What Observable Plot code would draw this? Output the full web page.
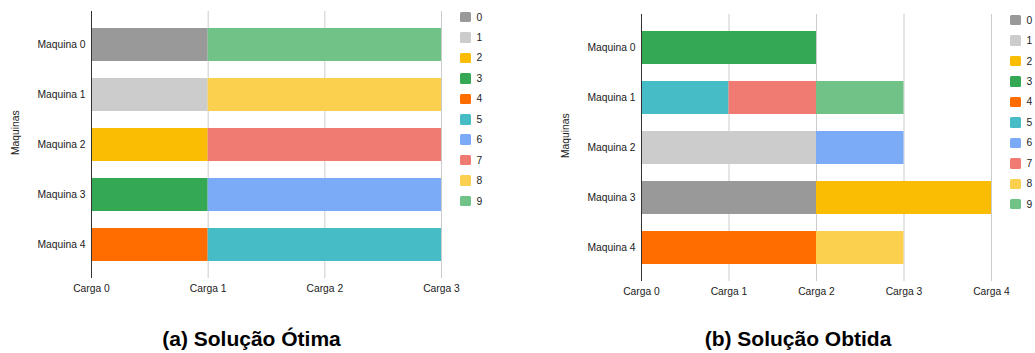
<!DOCTYPE html>
<html>
<head>
<meta charset="utf-8">
<script src="https://cdn.jsdelivr.net/npm/d3@7"></script>
<script src="https://cdn.jsdelivr.net/npm/@observablehq/plot@0.6"></script>
<style>
  body { margin: 0; background: #fff; }
  #root { position: relative; width: 1035px; height: 353px; background: #fff; font-family: "Liberation Sans", Arial, sans-serif; overflow: hidden; }
  .panel { position: absolute; }
  .legend { position: absolute; font-size: 10.3px; color: #222; }
  .legend .row { position: absolute; left: 0; height: 11px; display: flex; align-items: center; white-space: nowrap; }
  .legend .sw { width: 10.5px; height: 10.5px; border-radius: 1.5px; margin-right: 6px; flex: none; }
  .caption { position: absolute; font-weight: bold; font-size: 21px; line-height: 21px; text-align: center; color: #000; }
</style>
</head>
<body>
<div id="root"></div>
<script>
// ---- data ----
const maquinas = ["Maquina 0", "Maquina 1", "Maquina 2", "Maquina 3", "Maquina 4"];
const tarefas = ["0", "1", "2", "3", "4", "5", "6", "7", "8", "9"];
const cores = ["#999999", "#cccccc", "#fbbc04", "#34a853", "#ff6d01", "#46bdc6", "#7baaf7", "#f07b72", "#fcd04f", "#71c287"];

// (a) Solução Ótima
const otimaMaquina = [0, 0, 1, 1, 2, 2, 3, 3, 4, 4];
const otimaTarefa  = [0, 9, 1, 8, 2, 7, 3, 6, 4, 5];
const otimaCarga   = [1, 2, 1, 2, 1, 2, 1, 2, 1, 2];
const otimaTicks   = [0, 1, 2, 3];

// (b) Solução Obtida
const obtidaMaquina = [0, 1, 1, 1, 2, 2, 3, 3, 4, 4];
const obtidaTarefa  = [3, 5, 7, 9, 1, 6, 0, 2, 4, 8];
const obtidaCarga   = [2, 1, 1, 1, 2, 1, 2, 2, 2, 1];
const obtidaTicks   = [0, 1, 2, 3, 4];

const captions = ["(a) Solução Ótima", "(b) Solução Obtida"];
const eixoY = "Maquinas";
const prefixoX = "Carga ";

function rows(maq, tar, carga) {
  return maq.map((m, i) => ({maquina: maquinas[m], tarefa: tarefas[tar[i]], carga: carga[i]}));
}

function makeChart(data, ticks) {
  return Plot.plot({
    width: 450,
    height: 300,
    marginLeft: 91,
    marginRight: 9,
    marginTop: 11,
    marginBottom: 22,
    style: {fontFamily: "'Liberation Sans', Arial, sans-serif", fontSize: "10.3px", color: "#222", background: "transparent", overflow: "visible"},
    x: {domain: [ticks[0], ticks[ticks.length - 1]], ticks: ticks, tickFormat: d => prefixoX + d, tickSize: 0, tickPadding: 6, label: null},
    y: {domain: maquinas, padding: 0.34, tickSize: 0, tickPadding: 6, label: null},
    color: {domain: tarefas, range: cores},
    marks: [
      Plot.ruleX(ticks, {stroke: "#cccccc", strokeWidth: 1}),
      Plot.barX(data, {x: "carga", y: "maquina", fill: "tarefa"}),
      Plot.ruleX([0], {stroke: "#333333", strokeWidth: 1}),
      Plot.text([eixoY], {frameAnchor: "left", dx: -76, dy: 10, rotate: -90, fill: "#222", fontSize: 10.3})
    ]
  });
}

function addPanel(root, data, ticks, left, top, legendLeft, legendTop, caption, capCenter) {
  const div = document.createElement("div");
  div.className = "panel";
  div.style.left = left + "px";
  div.style.top = top + "px";
  const chart = makeChart(data, ticks);
  div.appendChild(chart);
  root.appendChild(div);

  const color = chart.scale("color");
  const leg = document.createElement("div");
  leg.className = "legend";
  leg.style.left = legendLeft + "px";
  leg.style.top = legendTop + "px";
  color.domain.forEach((t, i) => {
    const row = document.createElement("div");
    row.className = "row";
    row.style.top = (i * 20.45) + "px";
    const sw = document.createElement("div");
    sw.className = "sw";
    sw.style.background = color.range[i];
    const lab = document.createElement("span");
    lab.textContent = t;
    row.appendChild(sw);
    row.appendChild(lab);
    leg.appendChild(row);
  });
  root.appendChild(leg);

  const cap = document.createElement("div");
  cap.className = "caption";
  cap.style.left = (capCenter - 200) + "px";
  cap.style.width = "400px";
  cap.style.top = "328px";
  cap.textContent = caption;
  root.appendChild(cap);
}

const root = document.getElementById("root");
addPanel(root, rows(otimaMaquina, otimaTarefa, otimaCarga), otimaTicks, 0, 0, 460, 11.5, captions[0], 251.5);
addPanel(root, rows(obtidaMaquina, obtidaTarefa, obtidaCarga), obtidaTicks, 550, 3, 1010, 14.7, captions[1], 798);
</script>
</body>
</html>
